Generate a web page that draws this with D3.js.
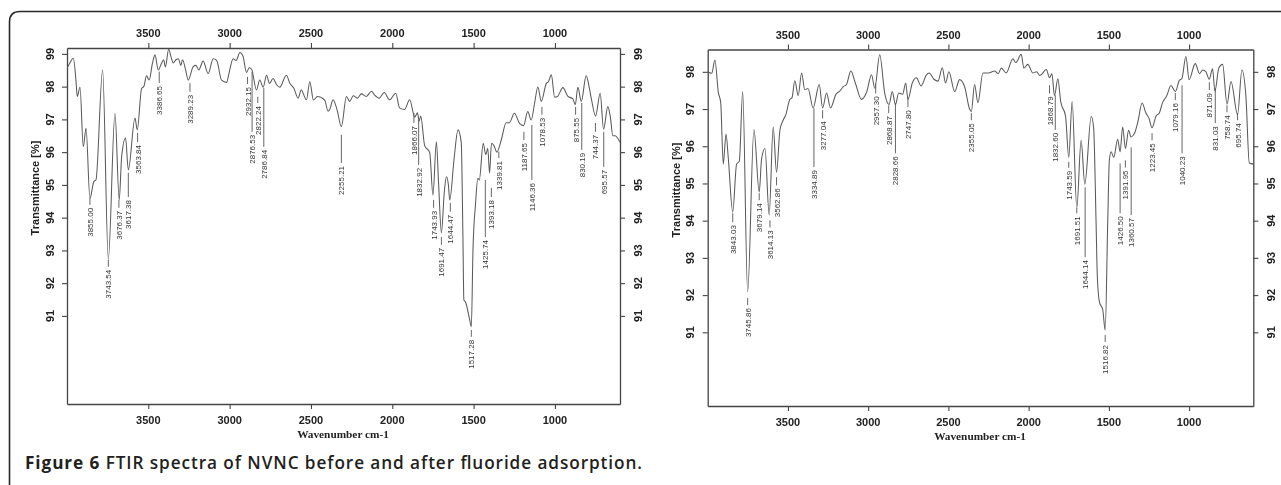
<!DOCTYPE html>
<html>
<head>
<meta charset="utf-8">
<script src="https://cdn.jsdelivr.net/npm/d3@7"></script>
<style>
  html, body { margin: 0; padding: 0; background: #ffffff; }
  svg { display: block; }
</style>
</head>
<body>
<svg id="chart" width="1281" height="485"></svg>
<script>
// ---------------- DATA ----------------
const xTickValues = [3500, 3000, 2500, 2000, 1500, 1000];
const leftYTickValues = [91, 92, 93, 94, 95, 96, 97, 98, 99];
const rightYTickValues = [91, 92, 93, 94, 95, 96, 97, 98];

// Spectrum before adsorption (wavenumber cm-1, transmittance %)
const leftWavenumber = [4000,3985,3961,3945,3937,3920,3900,3883,3859,3835,3822,3781,3746,3705,3679,3664,3640,3623,3582,3568,3541,3528,3511,3495,3475,3459,3439,3420,3406,3395,3375,3360,3347,3330,3315,3300,3290,3270,3255,3224,3207,3190,3163,3132,3101,3080,3050,3019,3000,2979,2960,2937,2918,2896,2880,2865,2835,2815,2794,2773,2755,2733,2710,2692,2651,2630,2605,2579,2560,2528,2507,2485,2460,2415,2395,2385,2364,2340,2313,2282,2262,2240,2215,2190,2160,2128,2110,2080,2050,2016,1979,1955,1925,1893,1862,1845,1835,1825,1801,1770,1750,1729,1715,1698,1680,1667,1655,1647,1620,1596,1576,1566,1560,1548,1525,1514,1504,1488,1474,1465,1441,1425,1413,1402,1390,1375,1357,1330,1300,1280,1249,1218,1193,1167,1146,1125,1105,1084,1053,1040,1022,1002,985,951,920,890,875,859,838,808,790,775,750,722,701,675,660,644,630,600];
const leftTransmittance = [98.56,98.7,98.87,98.2,97.7,97.98,96.17,96.73,94.59,95.1,95.15,98.51,92.73,97.19,94.54,95.86,96.43,95.46,97.04,96.68,97.95,98.0,98.33,98.2,98.7,98.97,98.51,98.7,98.82,98.6,99.14,98.9,98.72,98.82,98.85,98.65,98.82,98.5,98.2,98.61,98.65,98.51,98.78,98.4,98.85,98.8,98.2,98.13,98.5,98.85,98.8,99.04,98.93,98.43,98.58,98.53,97.9,98.2,97.98,98.35,98.1,98.25,98.05,97.98,98.35,98.1,97.95,97.65,97.9,97.6,98.15,97.59,97.7,97.58,97.25,97.3,97.6,97.3,96.78,97.7,97.55,97.72,97.65,97.78,97.7,97.86,97.75,97.65,97.82,97.6,97.8,97.35,97.3,97.6,97.07,97.2,96.95,97.1,96.2,95.99,94.69,96.32,95.0,93.53,94.8,95.25,95.0,94.54,95.8,96.68,96.3,93.5,91.5,91.4,90.9,90.67,93.0,94.44,95.2,95.15,96.27,95.92,96.12,95.36,96.27,96.2,96.0,96.37,96.9,96.9,97.19,96.88,96.81,97.24,96.98,97.5,97.99,97.55,98.1,98.15,98.36,97.68,97.7,97.97,97.7,97.63,97.45,97.98,97.55,98.33,98.0,97.6,97.1,97.8,96.7,97.39,97.1,96.5,96.5,96.3];

// Spectrum after adsorption
const rightWavenumber = [4000,3975,3955,3934,3919,3903,3886,3872,3844,3820,3803,3782,3751,3712,3679,3664,3643,3617,3592,3571,3550,3530,3513,3488,3475,3457,3436,3415,3395,3375,3343,3305,3284,3259,3235,3200,3177,3155,3135,3108,3080,3042,3010,2979,2959,2928,2897,2870,2850,2830,2810,2785,2766,2752,2725,2700,2670,2637,2620,2590,2565,2538,2518,2497,2461,2430,2399,2368,2357,2337,2316,2285,2250,2212,2190,2170,2140,2098,2080,2046,2030,2005,1974,1950,1930,1890,1870,1855,1839,1818,1800,1770,1750,1729,1700,1673,1650,1610,1595,1580,1572,1559,1538,1523,1507,1497,1486,1470,1445,1430,1414,1397,1377,1362,1341,1320,1293,1270,1250,1231,1206,1185,1165,1140,1113,1086,1061,1045,1020,1000,962,935,915,895,875,854,839,815,791,764,739,698,671,646,625,600];
const rightTransmittance = [98.0,97.96,98.32,97.45,97.18,95.52,96.33,95.7,94.23,95.52,95.6,97.47,92.09,96.45,94.77,95.67,95.94,94.15,96.52,95.3,96.43,96.7,96.85,97.26,97.3,97.76,97.36,97.97,97.52,97.55,97.03,97.66,97.03,97.43,97.03,97.4,97.48,97.6,97.66,98.02,97.7,97.26,97.45,97.92,97.56,98.46,97.43,97.12,97.47,97.12,97.43,97.4,97.7,97.26,97.7,97.84,97.62,97.92,97.97,97.8,97.75,98.11,97.7,98.0,97.47,97.79,97.6,97.0,96.93,97.66,97.17,97.97,97.97,98.02,97.95,98.1,97.97,98.35,98.25,98.47,98.1,98.2,97.97,98.0,97.9,98.06,97.84,97.95,97.36,97.81,97.2,96.81,95.7,97.2,94.34,96.16,94.98,96.8,96.5,94.0,92.5,91.82,91.6,91.06,94.0,95.63,95.85,95.7,96.19,95.85,96.52,95.94,96.43,96.25,96.34,96.64,97.16,96.9,96.75,96.5,96.81,96.9,97.18,97.35,97.63,97.47,97.77,97.82,98.41,97.79,98.22,97.95,98.05,98.0,97.8,98.08,97.48,98.1,98.2,97.13,97.74,96.85,98.05,97.34,95.55,95.52];

// Peak annotations: [label, wavenumber position, leader top %T, leader bottom %T]
const leftPeaks = [
  ["3855.00",3859,94.60,94.39], ["3743.54",3746,92.71,92.50], ["3676.37",3681,94.54,94.30],
  ["3617.38",3623,95.37,94.63], ["3563.84",3566,96.59,96.31], ["3386.65",3433,98.46,98.11],
  ["3289.23",3244,98.11,97.84], ["2932.15",2890,98.30,98.08], ["2876.53",2862,98.45,96.62],
  ["2822.24",2827,97.69,97.50], ["2786.84",2790,97.96,96.16], ["2255.21",2313,96.53,95.67],
  ["1866.07",1867,97.20,96.89], ["1832.92",1838,96.98,95.61], ["1743.93",1746,94.54,94.30],
  ["1691.47",1698,93.41,93.17], ["1644.47",1643,94.45,94.18], ["1517.28",1514,90.57,90.36],
  ["1425.74",1428,95.15,93.41], ["1393.18",1391,94.91,94.63], ["1339.81",1345,96.01,95.82],
  ["1187.65",1191,96.62,96.37], ["1146.36",1142,96.83,95.15], ["1078.53",1080,97.38,97.14],
  ["875.55",873,97.38,97.14], ["830.19",835,97.50,96.07], ["744.37",751,96.89,96.62],
  ["695.57",700,96.62,95.55]
];
const rightPeaks = [
  ["3843.03",3844,94.20,93.96], ["3745.86",3751,91.92,91.73], ["3679.14",3679,94.74,94.55],
  ["3614.13",3612,94.01,93.82], ["3562.86",3571,95.17,94.95], ["3334.89",3338,97.02,95.44],
  ["3277.04",3284,96.97,96.75], ["2957.30",2953,97.69,97.42], ["2868.87",2872,97.10,96.89],
  ["2828.66",2830,97.16,95.81], ["2747.80",2752,97.29,97.05], ["2355.05",2357,96.89,96.70],
  ["1868.79",1870,97.64,97.42], ["1832.60",1834,97.37,96.44], ["1743.59",1750,95.58,95.42],
  ["1691.51",1700,94.34,94.20], ["1644.14",1648,94.90,93.02], ["1516.82",1523,90.93,90.74],
  ["1426.50",1430,95.54,94.20], ["1391.95",1397,95.62,95.43], ["1360.57",1361,95.97,94.15],
  ["1223.45",1231,96.35,96.16], ["1079.16",1086,97.43,97.24], ["1040.23",1044,97.64,95.81],
  ["871.09",874,97.72,97.51], ["831.03",837,97.56,96.62], ["758.74",764,97.10,96.91],
  ["695.74",698,96.89,96.70]
];

const yAxisTitle = "Transmittance [%]";
const xAxisTitle = "Wavenumber cm-1";
const captionBold = "Figure 6";
const captionText = " FTIR spectra of NVNC before and after fluoride adsorption.";

// ---------------- DRAWING ----------------
const svg = d3.select("#chart");

// outer frame with rounded top-left corner
svg.append("path")
  .attr("d", "M9.5,485 V22 Q9.5,11.5 20,11.5 H1281")
  .attr("fill", "none").attr("stroke", "#2a2a2a").attr("stroke-width", 1.6);

const panels = [
  { left: 67, right: 620, top: 48, bottom: 404, yDomain: [88.31, 99.18],
    wn: leftWavenumber, tr: leftTransmittance, peaks: leftPeaks, yTicks: leftYTickValues,
    yTitleY: 188, xTitleX: 343 },
  { left: 707.7, right: 1253.3, top: 49.5, bottom: 406, yDomain: [89.02, 98.6],
    wn: rightWavenumber, tr: rightTransmittance, peaks: rightPeaks, yTicks: rightYTickValues,
    yTitleY: 190, xTitleX: 980 }
];

const axisColor = "#444";
const tickFont = "'Liberation Sans', Arial, sans-serif";

panels.forEach((p, i) => {
  const x = d3.scaleLinear().domain([4000, 600]).range([p.left, p.right]);
  const y = d3.scaleLinear().domain(p.yDomain).range([p.bottom, p.top]);
  const g = svg.append("g");

  const clipId = "clip" + i;
  svg.append("clipPath").attr("id", clipId)
    .append("rect").attr("x", p.left).attr("y", p.top)
    .attr("width", p.right - p.left).attr("height", p.bottom - p.top);

  // axes (tick marks via d3.axis)
  const axes = [
    [d3.axisTop(x), `translate(0,${p.top})`],
    [d3.axisBottom(x), `translate(0,${p.bottom})`],
    [d3.axisLeft(y), `translate(${p.left},0)`],
    [d3.axisRight(y), `translate(${p.right},0)`]
  ];
  axes.forEach(([ax, tr], k) => {
    const vals = k < 2 ? xTickValues : p.yTicks;
    const a = g.append("g").attr("transform", tr)
      .call(ax.tickValues(vals).tickSize(5).tickSizeOuter(0).tickFormat(""));
    a.select(".domain").attr("stroke", axisColor).attr("stroke-width", 1.3);
    a.selectAll(".tick line").attr("stroke", axisColor).attr("stroke-width", 1.1);
    a.selectAll(".tick text").remove();
  });

  const labels = g.append("g").attr("opacity", 0.999);

  // x tick labels top & bottom
  labels.append("g").selectAll("text").data(xTickValues).join("text")
    .attr("x", d => x(d)).attr("y", p.top - 11)
    .attr("text-anchor", "middle")
    .attr("font-family", tickFont).attr("font-weight", "bold").attr("font-size", 11)
    .attr("fill", "#222").text(d => d);
  labels.append("g").selectAll("text").data(xTickValues).join("text")
    .attr("x", d => x(d)).attr("y", p.bottom + 20)
    .attr("text-anchor", "middle")
    .attr("font-family", tickFont).attr("font-weight", "bold").attr("font-size", 11)
    .attr("fill", "#222").text(d => d);

  // y tick labels, rotated, both sides
  [p.left - 13.3, p.right + 21.8].forEach(bx => {
    labels.append("g").selectAll("text").data(p.yTicks).join("text")
      .attr("transform", d => `translate(${bx},${y(d)}) rotate(-90)`)
      .attr("text-anchor", "middle")
      .attr("font-family", tickFont).attr("font-weight", "bold").attr("font-size", 11)
      .attr("fill", "#222").text(d => d);
  });

  // axis titles
  labels.append("text")
    .attr("transform", `translate(${p.left - 28},${p.yTitleY}) rotate(-90)`)
    .attr("text-anchor", "middle")
    .attr("font-family", tickFont).attr("font-weight", "bold").attr("font-size", 11)
    .attr("fill", "#222").text(yAxisTitle);
  labels.append("text")
    .attr("x", p.xTitleX).attr("y", p.bottom + 34)
    .attr("text-anchor", "middle")
    .attr("font-family", "'Liberation Serif', 'Times New Roman', serif")
    .attr("font-weight", "bold").attr("font-size", 11.3)
    .attr("fill", "#222").text(xAxisTitle);

  // spectrum line
  const pts = p.wn.map((w, j) => [w, p.tr[j]]);
  const line = d3.line().x(d => x(d[0])).y(d => y(d[1])).curve(d3.curveMonotoneX);
  g.append("path").datum(pts)
    .attr("clip-path", `url(#${clipId})`)
    .attr("d", line)
    .attr("fill", "none").attr("stroke", "#5a5a5a").attr("stroke-width", 1.05)
    .attr("stroke-linejoin", "round");

  // peak annotations
  const pk = g.append("g").attr("opacity", 0.999);
  pk.selectAll("line").data(p.peaks).join("line")
    .attr("x1", d => x(d[1])).attr("x2", d => x(d[1]))
    .attr("y1", d => y(d[2])).attr("y2", d => y(d[3]))
    .attr("stroke", "#555").attr("stroke-width", 0.9);
  pk.selectAll("text").data(p.peaks).join("text")
    .attr("transform", d => `translate(${x(d[1]) + 3},${y(d[3]) + 3}) rotate(-90)`)
    .attr("text-anchor", "end")
    .attr("font-family", tickFont).attr("font-size", 8)
    .attr("fill", "#333").text(d => d[0]);
});

// caption
const cap = svg.append("text")
  .attr("x", 25).attr("y", 468.5)
  .attr("font-family", "'Open Sans', 'Noto Sans', sans-serif")
  .attr("font-size", 17.2).attr("fill", "#231f20")
  .attr("textLength", 617).attr("lengthAdjust", "spacing");
cap.append("tspan").attr("font-weight", 700).text(captionBold);
cap.append("tspan").attr("font-weight", 600).text(captionText);
</script>
</body>
</html>
